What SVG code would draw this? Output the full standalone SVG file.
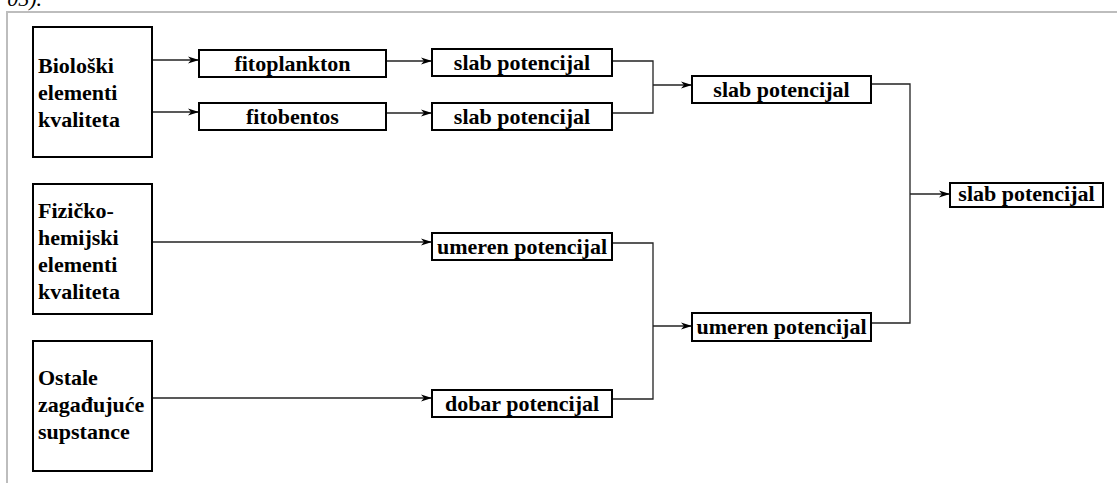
<svg xmlns="http://www.w3.org/2000/svg" width="1117" height="483" viewBox="0 0 1117 483">
<style>
.box{fill:#fff;stroke:#000;stroke-width:2}
.t{font-family:'Liberation Serif','Times New Roman','DejaVu Serif',serif;font-weight:700;font-size:22px;fill:#000}
.c{text-anchor:middle}
.ln{fill:none;stroke:#222;stroke-width:1.3}
.frame{fill:none;stroke:#bdbdbd;stroke-width:2}
</style>
<defs>
<marker id="arr" markerWidth="12" markerHeight="8" refX="11" refY="4" orient="auto" markerUnits="userSpaceOnUse">
<path d="M0,0.5 L11,4 L0,7.5 L3,4 Z" fill="#000"/>
</marker>
</defs>
<text x="42" y="6" text-anchor="end" font-family="Liberation Serif, serif" font-style="italic" font-size="22">05).</text>
<path class="frame" d="M7,483 V12 H1117"/>
<g id="connectors">
<path class="ln" d="M152,60 H199" marker-end="url(#arr)"/>
<path class="ln" d="M152,112 H199" marker-end="url(#arr)"/>
<path class="ln" d="M386,61 H432" marker-end="url(#arr)"/>
<path class="ln" d="M386,113 H432" marker-end="url(#arr)"/>
<path class="ln" d="M612,61 H653 V113 H612"/>
<path class="ln" d="M653,85 H692" marker-end="url(#arr)"/>
<path class="ln" d="M871,84 H910 V323 H871"/>
<path class="ln" d="M910,194 H950" marker-end="url(#arr)"/>
<path class="ln" d="M152,242 H432" marker-end="url(#arr)"/>
<path class="ln" d="M152,398 H432" marker-end="url(#arr)"/>
<path class="ln" d="M612,243 H653 V399 H612"/>
<path class="ln" d="M653,326 H692" marker-end="url(#arr)"/>
</g>
<g id="bioloski"><rect class="box" x="33" y="27" width="119" height="130"/>
<text class="t" x="38" y="73">Biološki</text><text class="t" x="38" y="100">elementi</text><text class="t" x="38" y="127">kvaliteta</text></g>
<g id="fizicko"><rect class="box" x="33" y="184" width="119" height="130"/>
<text class="t" x="38" y="218">Fizičko-</text><text class="t" x="38" y="245">hemijski</text><text class="t" x="38" y="272">elementi</text><text class="t" x="38" y="299">kvaliteta</text></g>
<g id="ostale"><rect class="box" x="33" y="341" width="119" height="130"/>
<text class="t" x="38" y="385">Ostale</text><text class="t" x="38" y="412">zagađujuće</text><text class="t" x="38" y="439">supstance</text></g>
<g id="fitoplankton"><rect class="box" x="199" y="50" width="187" height="27"/><text class="t c" x="292.5" y="71">fitoplankton</text></g>
<g id="fitobentos"><rect class="box" x="199" y="103" width="187" height="27"/><text class="t c" x="292.5" y="124">fitobentos</text></g>
<g id="slab1"><rect class="box" x="432" y="49" width="180" height="27"/><text class="t c" x="522" y="70">slab potencijal</text></g>
<g id="slab2"><rect class="box" x="432" y="103" width="180" height="27"/><text class="t c" x="522" y="124">slab potencijal</text></g>
<g id="umeren1"><rect class="box" x="432" y="233" width="180" height="27"/><text class="t c" x="522" y="254">umeren potencijal</text></g>
<g id="dobar"><rect class="box" x="432" y="390" width="180" height="27"/><text class="t c" x="522" y="411">dobar potencijal</text></g>
<g id="slab3"><rect class="box" x="692" y="76" width="179" height="27"/><text class="t c" x="781.5" y="97">slab potencijal</text></g>
<g id="umeren2"><rect class="box" x="692" y="313" width="179" height="28"/><text class="t c" x="781.5" y="334">umeren potencijal</text></g>
<g id="final"><rect class="box" x="950" y="183" width="153" height="24"/><text class="t c" x="1026.5" y="201">slab potencijal</text></g>
</svg>
